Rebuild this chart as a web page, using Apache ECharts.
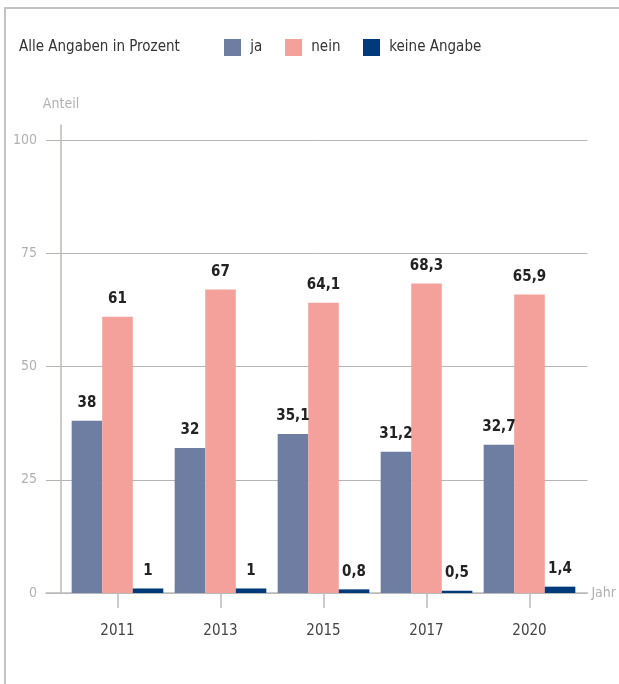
<!DOCTYPE html>
<html>
<head>
<meta charset="utf-8">
<script src="https://cdn.jsdelivr.net/npm/echarts@6/dist/echarts.min.js"></script>
<style>
  html, body { margin: 0; padding: 0; background: #fff; overflow: hidden; }
  .frame {
    position: absolute; left: 4px; top: 7px; width: 620px; height: 680px;
    border-left: 2px solid #c4c4c4; border-top: 2px solid #c4c4c4;
  }
  #chart { position: absolute; left: 0; top: 0; width: 619px; height: 684px; }
</style>
</head>
<body>
<div class="frame"></div>
<div id="chart"></div>
<script>
  const years = ['2011', '2013', '2015', '2017', '2020']
  const ja = [38, 32, 35.1, 31.2, 32.7]
  const nein = [61, 67, 64.1, 68.3, 65.9]
  const keineAngabe = [1, 1, 0.8, 0.5, 1.4]
  const yTicks = [0, 25, 50, 75, 100]

  const font = "'DejaVu Sans Condensed', sans-serif"
  const grey = '#b0b0b0'

  function barSeries (name, data, color) {
    return {
      name: name,
      type: 'bar',
      xAxisIndex: 1,
      yAxisIndex: 1,
      data: data,
      barGap: 0,
      barCategoryGap: '11%',
      itemStyle: { color: color },
      label: {
        show: true,
        position: 'top',
        distance: 10,
        color: '#222',
        fontFamily: font,
        fontWeight: 'bold',
        fontSize: 15,
        formatter: p => String(p.value).replace('.', ',')
      }
    }
  }

  // one legend per entry so each can sit where the reference puts it
  function legendItem (name, left) {
    return {
      left: left,
      top: 39,
      padding: 0,
      itemWidth: 17,
      itemHeight: 17,
      icon: 'rect',
      formatter: n => ' ' + n,
      textStyle: { color: '#333', fontSize: 15, fontFamily: font },
      data: [name]
    }
  }

  let chart = echarts.init(document.getElementById('chart'))
  chart.setOption({
    animation: false,
    textStyle: { fontFamily: font },
    title: {
      text: 'Alle Angaben in Prozent',
      left: 19,
      top: 40,
      padding: 0,
      textStyle: { color: '#333', fontSize: 15, fontWeight: 'normal', fontFamily: font }
    },
    legend: [
      legendItem('ja', 224),
      legendItem('nein', 285),
      legendItem('keine Angabe', 363)
    ],
    grid: [
      { left: 46, right: 31, top: 140, bottom: 91 },
      { left: 66, right: 38, top: 140, bottom: 91 },
      { left: 61, top: 125, bottom: 91, width: 10 }
    ],
    xAxis: [{
      gridIndex: 0,
      type: 'category',
      data: years,
      name: 'Jahr',
      nameGap: 4,
      nameTextStyle: { color: grey, fontSize: 14, fontFamily: font },
      axisLine: { lineStyle: { color: '#bbb', width: 1.5 } },
      axisTick: { show: false },
      axisLabel: { show: false }
    }, {
      gridIndex: 1,
      type: 'category',
      data: years,
      axisLine: { show: false },
      axisTick: { show: true, alignWithLabel: true, length: 15, lineStyle: { color: '#bbb', width: 1.5 } },
      axisLabel: { color: '#444', fontSize: 15, margin: 31, fontFamily: font }
    }, {
      gridIndex: 2,
      type: 'value',
      show: false
    }],
    yAxis: [{
      gridIndex: 0,
      type: 'value',
      min: yTicks[0],
      max: yTicks[yTicks.length - 1],
      interval: 25,
      axisLine: { show: false },
      axisTick: { show: false },
      axisLabel: { color: grey, fontSize: 14, margin: 9, fontFamily: font },
      splitLine: { lineStyle: { color: '#b5b5b5', width: 1 } }
    }, {
      gridIndex: 1,
      type: 'value',
      min: 0,
      max: 100,
      show: false
    }, {
      gridIndex: 2,
      type: 'value',
      min: 0,
      max: 1,
      name: 'Anteil',
      nameLocation: 'end',
      nameGap: 14,
      nameTextStyle: { color: grey, fontSize: 14, align: 'center', fontFamily: font },
      axisLine: { show: true, lineStyle: { color: '#c0bab6', width: 1.5 } },
      axisTick: { show: false },
      axisLabel: { show: false },
      splitLine: { show: false }
    }],
    series: [
      barSeries('ja', ja, '#6d7ea2'),
      barSeries('nein', nein, '#f3a19a'),
      barSeries('keine Angabe', keineAngabe, '#003a7a')
    ]
  })
</script>
</body>
</html>
